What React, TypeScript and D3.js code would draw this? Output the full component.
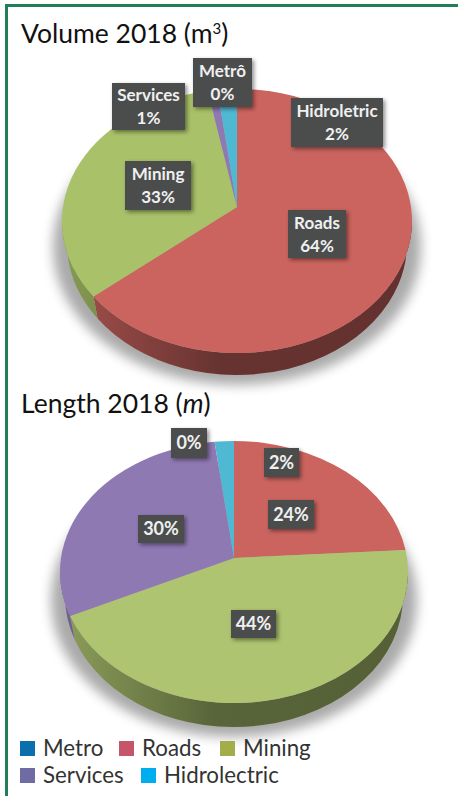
import React from 'react';
import * as d3 from 'd3';

const categories = ['Metro', 'Roads', 'Mining', 'Services', 'Hidrolectric'];
const volumeValues = [0, 64, 33, 1, 2];
const lengthValues = [0, 24, 44, 30, 2];
const faceColors = ['#1f78b4', '#cb645f', '#a9c168', '#8f79b3', '#4fb8d3'];
const lengthFaceColors = ['#1f78b4', '#cb645f', '#aec470', '#8f79b3', '#4fb8d3'];
const legendColors = ['#0b6fae', '#c4556b', '#a3ad4a', '#6f6ba3', '#00aeef'];

const volumeLabels = [['Metrô', '0%'], ['Services', '1%'], ['Hidroletric', '2%'], ['Mining', '33%'], ['Roads', '64%']];
const lengthLabels = [['0%'], ['2%'], ['24%'], ['30%'], ['44%']];

// label boxes: x, y, w, h
const volumeBoxes = [[193, 58, 59, 49], [112, 83, 73, 47], [291, 98, 92, 49], [125, 161, 66, 49], [288, 210, 58, 48]];
const lengthBoxes = [[171, 428, 36, 30], [264, 448, 35, 29], [268, 500, 46, 29], [138, 515, 46, 28], [231, 610, 45, 28]];

const legendRows = [[0, 1, 2], [3, 4]];
const legendX = [[20, 119, 220], [20, 141]];
const legendY = [741, 768];

const font = 'Lato, sans-serif';

type PieGeom = { id: string; cx: number; cy: number; rx: number; ry: number; ax: number; ay: number; depth: number };

const volumeGeom: PieGeom = { id: 'vol', cx: 237, cy: 221, rx: 175, ry: 132, ax: 237, ay: 207, depth: 22 };
const lengthGeom: PieGeom = { id: 'len', cx: 234, cy: 572, rx: 174, ry: 131, ax: 234, ay: 558, depth: 24 };

const Pie3D: React.FC<{ geom: PieGeom; values: number[]; colors: string[] }> = ({ geom, values, colors }) => {
  const { id, cx, cy, rx, ry, ax, ay, depth } = geom;
  const arcs = d3.pie<number>().sort(null).startAngle(0).endAngle(2 * Math.PI)(values);
  const tilt = ry / rx;
  const bottomRx = rx - 5; // bottom rim is a bit narrower, so the wall tapers at the sides

  // cast a ray from the off-centre apex to the rim, returns the rim parameter
  const rimAngle = (theta: number) => {
    if (theta >= 2 * Math.PI - 1e-6) return 2 * Math.PI;
    const px = (ax - cx) / rx;
    const py = (ay - cy) / ry;
    const dx = Math.sin(theta) / rx;
    const dy = (-tilt * Math.cos(theta)) / ry;
    const a = dx * dx + dy * dy;
    const b = 2 * (px * dx + py * dy);
    const c = px * px + py * py - 1;
    const t = (-b + Math.sqrt(b * b - 4 * a * c)) / (2 * a);
    const phi = Math.atan2(px + t * dx, -(py + t * dy));
    return phi < -1e-6 ? phi + 2 * Math.PI : Math.max(phi, 0);
  };
  const rim = (phi: number): [number, number] => [cx + rx * Math.sin(phi), cy - ry * Math.cos(phi)];
  const lowRim = (phi: number): [number, number] => [cx + bottomRx * Math.sin(phi), cy - ry * Math.cos(phi) + depth];

  const slices = arcs
    .map((d, i) => ({ i, phi0: rimAngle(d.startAngle), phi1: rimAngle(d.endAngle) }))
    .filter(s => s.phi1 > s.phi0);

  return (
    <g>
      <defs>
        <filter id={`${id}-blur`} x="-20%" y="-20%" width="140%" height="140%">
          <feGaussianBlur stdDeviation="6" />
        </filter>
        {slices.map(s => {
          const base = d3.color(colors[s.i])!;
          return (
            <linearGradient key={s.i} id={`${id}-side-${s.i}`} gradientUnits="userSpaceOnUse" x1={cx - rx} x2={cx + rx} y1={0} y2={0}>
              <stop offset="0" stopColor={base.darker(0.6).formatHex()} />
              <stop offset="0.45" stopColor={base.darker(1.9).formatHex()} />
              <stop offset="1" stopColor={base.darker(2).formatHex()} />
            </linearGradient>
          );
        })}
      </defs>
      <ellipse cx={cx} cy={cy + depth + 4} rx={rx + 9} ry={ry + 6} fill="#7d7d7d" opacity={0.65} filter={`url(#${id}-blur)`} />
      {slices.map(s => {
        const lo = Math.max(s.phi0, Math.PI / 2);
        const hi = Math.min(s.phi1, (3 * Math.PI) / 2);
        if (hi <= lo) return null;
        const [x0, y0] = rim(lo);
        const [x1, y1] = rim(hi);
        const [bx0, by0] = lowRim(lo);
        const [bx1, by1] = lowRim(hi);
        return (
          <path
            key={s.i}
            d={`M${x0},${y0}A${rx},${ry} 0 0 1 ${x1},${y1}L${bx1},${by1}A${bottomRx},${ry} 0 0 0 ${bx0},${by0}Z`}
            fill={`url(#${id}-side-${s.i})`}
          />
        );
      })}
      {slices.map(s => {
        const [x0, y0] = rim(s.phi0);
        const [x1, y1] = rim(s.phi1);
        const large = s.phi1 - s.phi0 > Math.PI ? 1 : 0;
        return (
          <path key={s.i} d={`M${ax},${ay}L${x0},${y0}A${rx},${ry} 0 ${large} 1 ${x1},${y1}Z`} fill={colors[s.i]} />
        );
      })}
    </g>
  );
};

const Labels: React.FC<{ labels: string[][]; boxes: number[][] }> = ({ labels, boxes }) => (
  <g>
    {labels.map((lines, i) => {
      const [x, y, w, h] = boxes[i];
      const mid = y + h / 2;
      return (
        <g key={i}>
          <rect x={x} y={y} width={w} height={h} fill="#4c4d4e" filter="url(#label-shadow)" />
          {lines.map((line, j) => (
            <text
              key={j}
              x={x + w / 2}
              y={mid + (j - (lines.length - 1) / 2) * 23}
              dy="0.36em"
              textAnchor="middle"
              fontFamily={font}
              fontWeight={700}
              fontSize={lines.length === 1 ? 18 : 17}
              fill="#f0f0f0"
            >
              {line}
            </text>
          ))}
        </g>
      );
    })}
  </g>
);

export default function App() {
  return (
    <svg width={458} height={796} style={{ position: 'absolute', left: 0, top: 0, display: 'block' }}>
      <defs>
        <filter id="label-shadow" x="-20%" y="-20%" width="150%" height="150%">
          <feDropShadow dx="2" dy="2" stdDeviation="2" floodColor="#000" floodOpacity="0.45" />
        </filter>
      </defs>
      <rect width={458} height={796} fill="#fff" />
      <path d="M6.5,796V5.5H458" fill="none" stroke="#1f7f57" strokeWidth={3} />

      <text x={21} y={43} fontFamily={font} fontSize={26.5} fill="#111">
        Volume 2018 (m<tspan dy={-9} fontSize={15}>3</tspan><tspan dy={9}>)</tspan>
      </text>
      <Pie3D geom={volumeGeom} values={volumeValues} colors={faceColors} />
      <Labels labels={volumeLabels} boxes={volumeBoxes} />

      <text x={21} y={413} fontFamily={font} fontSize={26.5} fill="#111">
        Length 2018 (<tspan fontStyle="italic">m</tspan>)
      </text>
      <Pie3D geom={lengthGeom} values={lengthValues} colors={lengthFaceColors} />
      <Labels labels={lengthLabels} boxes={lengthBoxes} />

      {legendRows.map((row, r) =>
        row.map((c, k) => (
          <g key={c}>
            <rect x={legendX[r][k]} y={legendY[r]} width={15} height={15} fill={legendColors[c]} />
            <text x={legendX[r][k] + 23} y={legendY[r] + 15} fontFamily={font} fontWeight={400} fontSize={22.3} fill="#333">
              {categories[c]}
            </text>
          </g>
        ))
      )}
    </svg>
  );
}
